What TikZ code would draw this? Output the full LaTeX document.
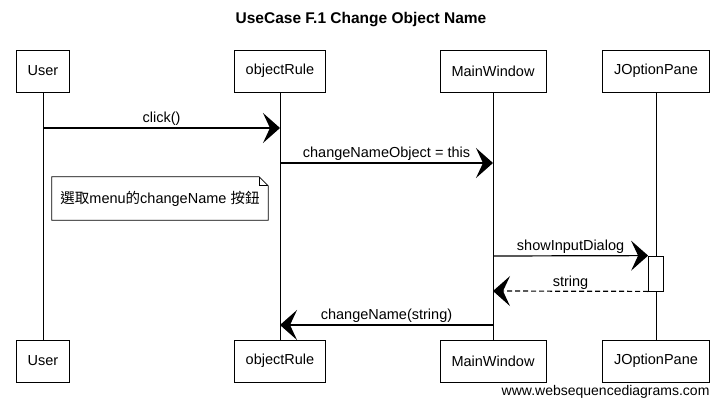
\documentclass[tikz,border=0pt]{standalone}
\usepackage{fontspec}
\setmainfont{Liberation Sans}
\newfontfamily\cjk{Noto Sans CJK TC}
\usetikzlibrary{arrows.meta,positioning,calc}

\tikzset{
  actor/.style={draw,line width=0.8pt,fill=white,minimum height=42pt,inner xsep=11.5pt,font=\fontsize{14.5}{16}\selectfont},
  life/.style={line width=0.8pt},
  msg/.style={line width=1.2pt,-{Stealth[length=17pt,width=30pt,inset=7pt]}},
  ret/.style={msg,dash pattern=on 5pt off 3pt},
  lbl/.style={above,inner sep=1.5pt,font=\fontsize{14.5}{16}\selectfont}
}

\begin{document}
\begin{tikzpicture}[x=1pt,y=-1pt]
\useasboundingbox (0,0) rectangle (722,406);
\node[font=\fontsize{15.5}{17}\selectfont\bfseries] (title) at (361,20) {UseCase F.1 Change Object Name};
% participants, top and bottom
\node[actor] (user) at (43,71) {User};
\node[actor] (rule) at (280,71) {objectRule};
\node[actor] (main) at (493,71) {MainWindow};
\node[actor] (pane) at (656,71) {JOptionPane};
\node[actor] (userB) at (43,361) {User};
\node[actor] (ruleB) at (280,361) {objectRule};
\node[actor] (mainB) at (493,361) {MainWindow};
\node[actor] (paneB) at (656,361) {JOptionPane};
\draw[life] (user) -- (userB);
\draw[life] (rule) -- (ruleB);
\draw[life] (main) -- (mainB);
\draw[life] (pane) -- (paneB);
% activation
\node[draw,line width=0.8pt,fill=white,minimum width=15pt,minimum height=35pt,inner sep=0pt] (act) at (656,273.5) {};
% messages
\draw[msg] (user |- 0,128) -- node[lbl] {click()} (rule |- 0,128);
\draw[msg] (rule |- 0,163) -- node[lbl] {changeNameObject = this} (main |- 0,163);
\draw[msg] (main |- 0,256) -- node[lbl] {showInputDialog} (act.north west);
\draw[ret] (act.south west) -- node[lbl] {string} (main |- 0,291);
\draw[msg] (main |- 0,325) -- node[lbl] {changeName(string)} (rule |- 0,325);
% note
\node[minimum width=216pt,minimum height=43pt,font=\fontsize{14.5}{16}\selectfont] (note) at (160,198.5) {{\cjk 選取}menu{\cjk 的}changeName {\cjk 按鈕}};
\draw[line width=0.8pt] (note.north west) -- ([xshift=-9pt]note.north east) -- ([yshift=-9pt]note.north east) -- (note.south east) -- (note.south west) -- cycle;
\draw[line width=0.8pt] ([xshift=-9pt]note.north east) -- ([xshift=-9pt,yshift=-9pt]note.north east) -- ([yshift=-9pt]note.north east);
\node[anchor=east,font=\fontsize{14}{16}\selectfont] (site) at (713,392) {www.websequencediagrams.com};
\end{tikzpicture}
\end{document}
